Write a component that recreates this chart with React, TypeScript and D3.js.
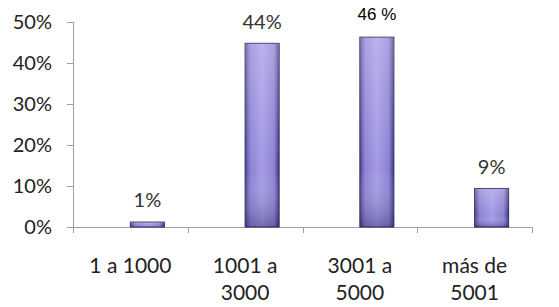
import React from "react";
import * as d3 from "d3";

const categories: string[][] = [["1 a 1000"], ["1001 a", "3000"], ["3001 a", "5000"], ["más de", "5001"]];
const values: number[] = [1.2, 44.8, 46.3, 9.4];
const valueLabels: string[] = ["1%", "44%", "46 %", "9%"];
const yTicks: number[] = [0, 10, 20, 30, 40, 50];

const W = 559;
const H = 307;
const left = 73;
const right = 532;
const top = 22;
const bottom = 227;

export default function App() {
  const x = d3.scaleBand<number>().domain(d3.range(categories.length)).range([left, right]);
  const y = d3.scaleLinear().domain([0, 50]).range([bottom, top]);
  const bw = 34;
  const font = "Lato, 'Noto Sans', sans-serif";
  return (
    <svg width={W} height={H} style={{ position: "absolute", left: 0, top: 0, background: "#fff" }}>
      <defs>
        <linearGradient id="barG" x1="0" x2="1" y1="0" y2="0">
          <stop offset="0" stopColor="#4a4390" />
          <stop offset="0.15" stopColor="#8c82d4" />
          <stop offset="0.5" stopColor="#a49ae6" />
          <stop offset="0.85" stopColor="#8c82d4" />
          <stop offset="1" stopColor="#3e3780" />
        </linearGradient>
        <linearGradient id="barV" x1="0" x2="0" y1="0" y2="1">
          <stop offset="0" stopColor="#fff" stopOpacity="0.25" />
          <stop offset="0.7" stopColor="#fff" stopOpacity="0" />
          <stop offset="1" stopColor="#1c1850" stopOpacity="0.35" />
        </linearGradient>
      </defs>
      {/* y axis */}
      <line x1={left + 0.5} x2={left + 0.5} y1={top} y2={bottom} stroke="#9aa0a4" />
      {yTicks.map((t) => (
        <g key={t}>
          <line x1={left - 6} x2={left} y1={Math.round(y(t)) + 0.5} y2={Math.round(y(t)) + 0.5} stroke="#9aa0a4" />
          <text x={left - 21} y={y(t)} dy="0.36em" textAnchor="end" fontFamily={font} fontSize={20} fill="#222">
            {t}%
          </text>
        </g>
      ))}
      {/* x axis */}
      <line x1={left - 6} x2={right} y1={bottom + 0.5} y2={bottom + 0.5} stroke="#9aa0a4" />
      {d3.range(categories.length + 1).map((i) => {
        const xx = i < categories.length ? x(i)! : right;
        return <line key={i} x1={Math.round(xx) + 0.5} x2={Math.round(xx) + 0.5} y1={bottom} y2={bottom + 6} stroke="#9aa0a4" />;
      })}
      {categories.map((c, i) => (
        <text key={i} x={x(i)! + x.bandwidth() / 2} y={265} textAnchor="middle" fontFamily={font} fontSize={21} fill="#222">
          {c.map((l, j) => (
            <tspan key={j} x={x(i)! + x.bandwidth() / 2} dy={j === 0 ? "0.36em" : 27}>
              {l}
            </tspan>
          ))}
        </text>
      ))}
      {values.map((v, i) => {
        const bx = x(i)! + x.bandwidth() / 2;
        const by = y(v);
        const h = bottom - by;
        return (
          <g key={i}>
            <rect x={bx} y={by} width={bw} height={h} fill="url(#barG)" stroke="#2e2960" strokeWidth={1} />
            <rect x={bx} y={by} width={bw} height={h} fill="url(#barV)" />
          </g>
        );
      })}
      {values.map((v, i) => {
        const cx = x(i)! + x.bandwidth() / 2 + bw / 2;
        const special = i === 2;
        return (
          <text
            key={i}
            x={cx}
            y={y(v) - (special ? 23 : 22)}
            dy="0.36em"
            textAnchor="middle"
            fontFamily={special ? "'Liberation Sans', Arial, sans-serif" : font}
            fontSize={special ? 17 : 20}
            fill={special ? "#000" : "#333"}
          >
            {valueLabels[i]}
          </text>
        );
      })}
    </svg>
  );
}
